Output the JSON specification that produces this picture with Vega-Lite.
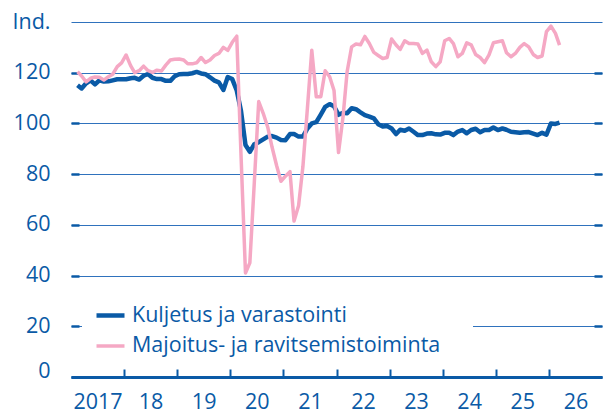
{
  "$schema": "https://vega.github.io/schema/vega-lite/v6.json",
  "width": 531,
  "height": 355,
  "autosize": {"type": "none"},
  "padding": {"left": 71, "top": 22, "right": 4, "bottom": 37},
  "background": "white",
  "config": {
    "font": "Open Sans",
    "view": {"stroke": null},
    "axis": {"labelColor": "#0a5aa6", "labelFontSize": 21.5, "labelFont": "Open Sans", "title": null}
  },
  "data": {"values": [
    {"date":"2017-02-15","series":"Kuljetus ja varastointi","value":115.1},
    {"date":"2017-03-15","series":"Kuljetus ja varastointi","value":113.8},
    {"date":"2017-04-15","series":"Kuljetus ja varastointi","value":115.8},
    {"date":"2017-05-15","series":"Kuljetus ja varastointi","value":117.0},
    {"date":"2017-06-15","series":"Kuljetus ja varastointi","value":115.4},
    {"date":"2017-07-15","series":"Kuljetus ja varastointi","value":117.0},
    {"date":"2017-08-15","series":"Kuljetus ja varastointi","value":116.5},
    {"date":"2017-09-15","series":"Kuljetus ja varastointi","value":116.6},
    {"date":"2017-10-15","series":"Kuljetus ja varastointi","value":117.0},
    {"date":"2017-11-15","series":"Kuljetus ja varastointi","value":117.4},
    {"date":"2017-12-15","series":"Kuljetus ja varastointi","value":117.4},
    {"date":"2018-01-15","series":"Kuljetus ja varastointi","value":117.4},
    {"date":"2018-02-15","series":"Kuljetus ja varastointi","value":117.8},
    {"date":"2018-03-15","series":"Kuljetus ja varastointi","value":118.0},
    {"date":"2018-04-15","series":"Kuljetus ja varastointi","value":117.3},
    {"date":"2018-05-15","series":"Kuljetus ja varastointi","value":118.8},
    {"date":"2018-06-15","series":"Kuljetus ja varastointi","value":119.5},
    {"date":"2018-07-15","series":"Kuljetus ja varastointi","value":118.0},
    {"date":"2018-08-15","series":"Kuljetus ja varastointi","value":117.5},
    {"date":"2018-09-15","series":"Kuljetus ja varastointi","value":117.5},
    {"date":"2018-10-15","series":"Kuljetus ja varastointi","value":116.8},
    {"date":"2018-11-15","series":"Kuljetus ja varastointi","value":116.8},
    {"date":"2018-12-15","series":"Kuljetus ja varastointi","value":118.6},
    {"date":"2019-01-15","series":"Kuljetus ja varastointi","value":119.4},
    {"date":"2019-02-15","series":"Kuljetus ja varastointi","value":119.5},
    {"date":"2019-03-15","series":"Kuljetus ja varastointi","value":119.5},
    {"date":"2019-04-15","series":"Kuljetus ja varastointi","value":119.8},
    {"date":"2019-05-15","series":"Kuljetus ja varastointi","value":120.3},
    {"date":"2019-06-15","series":"Kuljetus ja varastointi","value":119.7},
    {"date":"2019-07-15","series":"Kuljetus ja varastointi","value":119.4},
    {"date":"2019-08-15","series":"Kuljetus ja varastointi","value":118.2},
    {"date":"2019-09-15","series":"Kuljetus ja varastointi","value":116.9},
    {"date":"2019-10-15","series":"Kuljetus ja varastointi","value":116.2},
    {"date":"2019-11-15","series":"Kuljetus ja varastointi","value":113.2},
    {"date":"2019-12-15","series":"Kuljetus ja varastointi","value":118.3},
    {"date":"2020-01-15","series":"Kuljetus ja varastointi","value":117.5},
    {"date":"2020-02-15","series":"Kuljetus ja varastointi","value":113.0},
    {"date":"2020-03-15","series":"Kuljetus ja varastointi","value":105.0},
    {"date":"2020-04-15","series":"Kuljetus ja varastointi","value":91.5},
    {"date":"2020-05-15","series":"Kuljetus ja varastointi","value":88.8},
    {"date":"2020-06-15","series":"Kuljetus ja varastointi","value":91.8},
    {"date":"2020-07-15","series":"Kuljetus ja varastointi","value":92.6},
    {"date":"2020-08-15","series":"Kuljetus ja varastointi","value":93.7},
    {"date":"2020-09-15","series":"Kuljetus ja varastointi","value":94.8},
    {"date":"2020-10-15","series":"Kuljetus ja varastointi","value":95.0},
    {"date":"2020-11-15","series":"Kuljetus ja varastointi","value":94.4},
    {"date":"2020-12-15","series":"Kuljetus ja varastointi","value":93.5},
    {"date":"2021-01-15","series":"Kuljetus ja varastointi","value":93.4},
    {"date":"2021-02-15","series":"Kuljetus ja varastointi","value":95.8},
    {"date":"2021-03-15","series":"Kuljetus ja varastointi","value":95.8},
    {"date":"2021-04-15","series":"Kuljetus ja varastointi","value":94.8},
    {"date":"2021-05-15","series":"Kuljetus ja varastointi","value":94.8},
    {"date":"2021-06-15","series":"Kuljetus ja varastointi","value":98.0},
    {"date":"2021-07-15","series":"Kuljetus ja varastointi","value":100.0},
    {"date":"2021-08-15","series":"Kuljetus ja varastointi","value":100.5},
    {"date":"2021-09-15","series":"Kuljetus ja varastointi","value":103.5},
    {"date":"2021-10-15","series":"Kuljetus ja varastointi","value":106.5},
    {"date":"2021-11-15","series":"Kuljetus ja varastointi","value":107.6},
    {"date":"2021-12-15","series":"Kuljetus ja varastointi","value":106.8},
    {"date":"2022-01-15","series":"Kuljetus ja varastointi","value":103.4},
    {"date":"2022-02-15","series":"Kuljetus ja varastointi","value":104.2},
    {"date":"2022-03-15","series":"Kuljetus ja varastointi","value":104.0},
    {"date":"2022-04-15","series":"Kuljetus ja varastointi","value":106.0},
    {"date":"2022-05-15","series":"Kuljetus ja varastointi","value":105.6},
    {"date":"2022-06-15","series":"Kuljetus ja varastointi","value":104.4},
    {"date":"2022-07-15","series":"Kuljetus ja varastointi","value":103.3},
    {"date":"2022-08-15","series":"Kuljetus ja varastointi","value":102.7},
    {"date":"2022-09-15","series":"Kuljetus ja varastointi","value":102.0},
    {"date":"2022-10-15","series":"Kuljetus ja varastointi","value":99.7},
    {"date":"2022-11-15","series":"Kuljetus ja varastointi","value":98.8},
    {"date":"2022-12-15","series":"Kuljetus ja varastointi","value":99.0},
    {"date":"2023-01-15","series":"Kuljetus ja varastointi","value":98.0},
    {"date":"2023-02-15","series":"Kuljetus ja varastointi","value":95.8},
    {"date":"2023-03-15","series":"Kuljetus ja varastointi","value":97.5},
    {"date":"2023-04-15","series":"Kuljetus ja varastointi","value":97.1},
    {"date":"2023-05-15","series":"Kuljetus ja varastointi","value":98.0},
    {"date":"2023-06-15","series":"Kuljetus ja varastointi","value":96.7},
    {"date":"2023-07-15","series":"Kuljetus ja varastointi","value":95.4},
    {"date":"2023-08-15","series":"Kuljetus ja varastointi","value":95.4},
    {"date":"2023-09-15","series":"Kuljetus ja varastointi","value":96.0},
    {"date":"2023-10-15","series":"Kuljetus ja varastointi","value":96.1},
    {"date":"2023-11-15","series":"Kuljetus ja varastointi","value":95.7},
    {"date":"2023-12-15","series":"Kuljetus ja varastointi","value":95.6},
    {"date":"2024-01-15","series":"Kuljetus ja varastointi","value":96.3},
    {"date":"2024-02-15","series":"Kuljetus ja varastointi","value":96.3},
    {"date":"2024-03-15","series":"Kuljetus ja varastointi","value":95.4},
    {"date":"2024-04-15","series":"Kuljetus ja varastointi","value":96.8},
    {"date":"2024-05-15","series":"Kuljetus ja varastointi","value":97.4},
    {"date":"2024-06-15","series":"Kuljetus ja varastointi","value":96.1},
    {"date":"2024-07-15","series":"Kuljetus ja varastointi","value":97.4},
    {"date":"2024-08-15","series":"Kuljetus ja varastointi","value":97.9},
    {"date":"2024-09-15","series":"Kuljetus ja varastointi","value":96.5},
    {"date":"2024-10-15","series":"Kuljetus ja varastointi","value":97.4},
    {"date":"2024-11-15","series":"Kuljetus ja varastointi","value":97.4},
    {"date":"2024-12-15","series":"Kuljetus ja varastointi","value":98.4},
    {"date":"2025-01-15","series":"Kuljetus ja varastointi","value":97.4},
    {"date":"2025-02-15","series":"Kuljetus ja varastointi","value":98.0},
    {"date":"2025-03-15","series":"Kuljetus ja varastointi","value":97.5},
    {"date":"2025-04-15","series":"Kuljetus ja varastointi","value":96.7},
    {"date":"2025-05-15","series":"Kuljetus ja varastointi","value":96.5},
    {"date":"2025-06-15","series":"Kuljetus ja varastointi","value":96.3},
    {"date":"2025-07-15","series":"Kuljetus ja varastointi","value":96.5},
    {"date":"2025-08-15","series":"Kuljetus ja varastointi","value":96.6},
    {"date":"2025-09-15","series":"Kuljetus ja varastointi","value":96.0},
    {"date":"2025-10-15","series":"Kuljetus ja varastointi","value":95.4},
    {"date":"2025-11-15","series":"Kuljetus ja varastointi","value":96.3},
    {"date":"2025-12-15","series":"Kuljetus ja varastointi","value":95.6},
    {"date":"2026-01-15","series":"Kuljetus ja varastointi","value":100.0},
    {"date":"2026-02-15","series":"Kuljetus ja varastointi","value":99.8},
    {"date":"2026-03-15","series":"Kuljetus ja varastointi","value":100.3},
    {"date":"2017-02-15","series":"Majoitus- ja ravitsemistoiminta","value":120.4},
    {"date":"2017-03-15","series":"Majoitus- ja ravitsemistoiminta","value":118.7},
    {"date":"2017-04-15","series":"Majoitus- ja ravitsemistoiminta","value":116.4},
    {"date":"2017-05-15","series":"Majoitus- ja ravitsemistoiminta","value":117.8},
    {"date":"2017-06-15","series":"Majoitus- ja ravitsemistoiminta","value":118.3},
    {"date":"2017-07-15","series":"Majoitus- ja ravitsemistoiminta","value":118.2},
    {"date":"2017-08-15","series":"Majoitus- ja ravitsemistoiminta","value":117.1},
    {"date":"2017-09-15","series":"Majoitus- ja ravitsemistoiminta","value":118.4},
    {"date":"2017-10-15","series":"Majoitus- ja ravitsemistoiminta","value":119.4},
    {"date":"2017-11-15","series":"Majoitus- ja ravitsemistoiminta","value":122.4},
    {"date":"2017-12-15","series":"Majoitus- ja ravitsemistoiminta","value":123.9},
    {"date":"2018-01-15","series":"Majoitus- ja ravitsemistoiminta","value":127.0},
    {"date":"2018-02-15","series":"Majoitus- ja ravitsemistoiminta","value":122.8},
    {"date":"2018-03-15","series":"Majoitus- ja ravitsemistoiminta","value":120.0},
    {"date":"2018-04-15","series":"Majoitus- ja ravitsemistoiminta","value":120.8},
    {"date":"2018-05-15","series":"Majoitus- ja ravitsemistoiminta","value":122.6},
    {"date":"2018-06-15","series":"Majoitus- ja ravitsemistoiminta","value":120.8},
    {"date":"2018-07-15","series":"Majoitus- ja ravitsemistoiminta","value":120.1},
    {"date":"2018-08-15","series":"Majoitus- ja ravitsemistoiminta","value":121.0},
    {"date":"2018-09-15","series":"Majoitus- ja ravitsemistoiminta","value":120.7},
    {"date":"2018-10-15","series":"Majoitus- ja ravitsemistoiminta","value":123.0},
    {"date":"2018-11-15","series":"Majoitus- ja ravitsemistoiminta","value":125.0},
    {"date":"2018-12-15","series":"Majoitus- ja ravitsemistoiminta","value":125.3},
    {"date":"2019-01-15","series":"Majoitus- ja ravitsemistoiminta","value":125.4},
    {"date":"2019-02-15","series":"Majoitus- ja ravitsemistoiminta","value":125.0},
    {"date":"2019-03-15","series":"Majoitus- ja ravitsemistoiminta","value":123.5},
    {"date":"2019-04-15","series":"Majoitus- ja ravitsemistoiminta","value":123.5},
    {"date":"2019-05-15","series":"Majoitus- ja ravitsemistoiminta","value":123.9},
    {"date":"2019-06-15","series":"Majoitus- ja ravitsemistoiminta","value":126.0},
    {"date":"2019-07-15","series":"Majoitus- ja ravitsemistoiminta","value":124.0},
    {"date":"2019-08-15","series":"Majoitus- ja ravitsemistoiminta","value":125.0},
    {"date":"2019-09-15","series":"Majoitus- ja ravitsemistoiminta","value":126.8},
    {"date":"2019-10-15","series":"Majoitus- ja ravitsemistoiminta","value":127.6},
    {"date":"2019-11-15","series":"Majoitus- ja ravitsemistoiminta","value":130.0},
    {"date":"2019-12-15","series":"Majoitus- ja ravitsemistoiminta","value":128.8},
    {"date":"2020-01-15","series":"Majoitus- ja ravitsemistoiminta","value":132.0},
    {"date":"2020-02-15","series":"Majoitus- ja ravitsemistoiminta","value":134.4},
    {"date":"2020-03-15","series":"Majoitus- ja ravitsemistoiminta","value":88.0},
    {"date":"2020-04-15","series":"Majoitus- ja ravitsemistoiminta","value":41.0},
    {"date":"2020-05-15","series":"Majoitus- ja ravitsemistoiminta","value":45.0},
    {"date":"2020-06-15","series":"Majoitus- ja ravitsemistoiminta","value":77.0},
    {"date":"2020-07-15","series":"Majoitus- ja ravitsemistoiminta","value":108.6},
    {"date":"2020-08-15","series":"Majoitus- ja ravitsemistoiminta","value":104.0},
    {"date":"2020-09-15","series":"Majoitus- ja ravitsemistoiminta","value":98.5},
    {"date":"2020-10-15","series":"Majoitus- ja ravitsemistoiminta","value":90.6},
    {"date":"2020-11-15","series":"Majoitus- ja ravitsemistoiminta","value":83.4},
    {"date":"2020-12-15","series":"Majoitus- ja ravitsemistoiminta","value":77.2},
    {"date":"2021-01-15","series":"Majoitus- ja ravitsemistoiminta","value":79.2},
    {"date":"2021-02-15","series":"Majoitus- ja ravitsemistoiminta","value":81.0},
    {"date":"2021-03-15","series":"Majoitus- ja ravitsemistoiminta","value":61.5},
    {"date":"2021-04-15","series":"Majoitus- ja ravitsemistoiminta","value":67.5},
    {"date":"2021-05-15","series":"Majoitus- ja ravitsemistoiminta","value":83.0},
    {"date":"2021-06-15","series":"Majoitus- ja ravitsemistoiminta","value":106.0},
    {"date":"2021-07-15","series":"Majoitus- ja ravitsemistoiminta","value":128.9},
    {"date":"2021-08-15","series":"Majoitus- ja ravitsemistoiminta","value":110.5},
    {"date":"2021-09-15","series":"Majoitus- ja ravitsemistoiminta","value":110.5},
    {"date":"2021-10-15","series":"Majoitus- ja ravitsemistoiminta","value":120.8},
    {"date":"2021-11-15","series":"Majoitus- ja ravitsemistoiminta","value":118.4},
    {"date":"2021-12-15","series":"Majoitus- ja ravitsemistoiminta","value":113.0},
    {"date":"2022-01-15","series":"Majoitus- ja ravitsemistoiminta","value":88.5},
    {"date":"2022-02-15","series":"Majoitus- ja ravitsemistoiminta","value":102.6},
    {"date":"2022-03-15","series":"Majoitus- ja ravitsemistoiminta","value":120.4},
    {"date":"2022-04-15","series":"Majoitus- ja ravitsemistoiminta","value":130.2},
    {"date":"2022-05-15","series":"Majoitus- ja ravitsemistoiminta","value":131.3},
    {"date":"2022-06-15","series":"Majoitus- ja ravitsemistoiminta","value":131.0},
    {"date":"2022-07-15","series":"Majoitus- ja ravitsemistoiminta","value":134.3},
    {"date":"2022-08-15","series":"Majoitus- ja ravitsemistoiminta","value":131.5},
    {"date":"2022-09-15","series":"Majoitus- ja ravitsemistoiminta","value":128.0},
    {"date":"2022-10-15","series":"Majoitus- ja ravitsemistoiminta","value":126.8},
    {"date":"2022-11-15","series":"Majoitus- ja ravitsemistoiminta","value":125.6},
    {"date":"2022-12-15","series":"Majoitus- ja ravitsemistoiminta","value":126.0},
    {"date":"2023-01-15","series":"Majoitus- ja ravitsemistoiminta","value":133.3},
    {"date":"2023-02-15","series":"Majoitus- ja ravitsemistoiminta","value":130.9},
    {"date":"2023-03-15","series":"Majoitus- ja ravitsemistoiminta","value":129.2},
    {"date":"2023-04-15","series":"Majoitus- ja ravitsemistoiminta","value":132.6},
    {"date":"2023-05-15","series":"Majoitus- ja ravitsemistoiminta","value":131.5},
    {"date":"2023-06-15","series":"Majoitus- ja ravitsemistoiminta","value":131.5},
    {"date":"2023-07-15","series":"Majoitus- ja ravitsemistoiminta","value":131.3},
    {"date":"2023-08-15","series":"Majoitus- ja ravitsemistoiminta","value":127.6},
    {"date":"2023-09-15","series":"Majoitus- ja ravitsemistoiminta","value":128.9},
    {"date":"2023-10-15","series":"Majoitus- ja ravitsemistoiminta","value":124.3},
    {"date":"2023-11-15","series":"Majoitus- ja ravitsemistoiminta","value":122.4},
    {"date":"2023-12-15","series":"Majoitus- ja ravitsemistoiminta","value":124.3},
    {"date":"2024-01-15","series":"Majoitus- ja ravitsemistoiminta","value":132.6},
    {"date":"2024-02-15","series":"Majoitus- ja ravitsemistoiminta","value":133.5},
    {"date":"2024-03-15","series":"Majoitus- ja ravitsemistoiminta","value":131.5},
    {"date":"2024-04-15","series":"Majoitus- ja ravitsemistoiminta","value":126.3},
    {"date":"2024-05-15","series":"Majoitus- ja ravitsemistoiminta","value":127.6},
    {"date":"2024-06-15","series":"Majoitus- ja ravitsemistoiminta","value":131.8},
    {"date":"2024-07-15","series":"Majoitus- ja ravitsemistoiminta","value":131.0},
    {"date":"2024-08-15","series":"Majoitus- ja ravitsemistoiminta","value":127.2},
    {"date":"2024-09-15","series":"Majoitus- ja ravitsemistoiminta","value":126.0},
    {"date":"2024-10-15","series":"Majoitus- ja ravitsemistoiminta","value":124.0},
    {"date":"2024-11-15","series":"Majoitus- ja ravitsemistoiminta","value":127.0},
    {"date":"2024-12-15","series":"Majoitus- ja ravitsemistoiminta","value":131.8},
    {"date":"2025-01-15","series":"Majoitus- ja ravitsemistoiminta","value":132.2},
    {"date":"2025-02-15","series":"Majoitus- ja ravitsemistoiminta","value":132.6},
    {"date":"2025-03-15","series":"Majoitus- ja ravitsemistoiminta","value":127.9},
    {"date":"2025-04-15","series":"Majoitus- ja ravitsemistoiminta","value":126.3},
    {"date":"2025-05-15","series":"Majoitus- ja ravitsemistoiminta","value":127.6},
    {"date":"2025-06-15","series":"Majoitus- ja ravitsemistoiminta","value":130.0},
    {"date":"2025-07-15","series":"Majoitus- ja ravitsemistoiminta","value":131.5},
    {"date":"2025-08-15","series":"Majoitus- ja ravitsemistoiminta","value":130.2},
    {"date":"2025-09-15","series":"Majoitus- ja ravitsemistoiminta","value":127.2},
    {"date":"2025-10-15","series":"Majoitus- ja ravitsemistoiminta","value":126.0},
    {"date":"2025-11-15","series":"Majoitus- ja ravitsemistoiminta","value":126.6},
    {"date":"2025-12-15","series":"Majoitus- ja ravitsemistoiminta","value":136.2},
    {"date":"2026-01-15","series":"Majoitus- ja ravitsemistoiminta","value":138.4},
    {"date":"2026-02-15","series":"Majoitus- ja ravitsemistoiminta","value":135.5},
    {"date":"2026-03-15","series":"Majoitus- ja ravitsemistoiminta","value":130.9}
  ]},
  "layer": [
    {
      "mark": {"type": "line", "strokeJoin": "round", "strokeCap": "butt"},
      "encoding": {
        "x": {
          "field": "date", "type": "temporal",
          "scale": {"type": "utc", "domain": [{"year": 2017, "month": 1, "date": 1, "utc": true}, {"year": 2027, "month": 1, "date": 1, "utc": true}], "nice": false},
          "axis": {
            "values": [
              {"year": 2017, "month": 1, "date": 1, "utc": true},
              {"year": 2018, "month": 1, "date": 1, "utc": true},
              {"year": 2019, "month": 1, "date": 1, "utc": true},
              {"year": 2020, "month": 1, "date": 1, "utc": true},
              {"year": 2021, "month": 1, "date": 1, "utc": true},
              {"year": 2022, "month": 1, "date": 1, "utc": true},
              {"year": 2023, "month": 1, "date": 1, "utc": true},
              {"year": 2024, "month": 1, "date": 1, "utc": true},
              {"year": 2025, "month": 1, "date": 1, "utc": true},
              {"year": 2026, "month": 1, "date": 1, "utc": true}
            ],
            "labelExpr": "utcyear(datum.value) == 2017 ? '2017' : utcFormat(datum.value, '%y')",
            "labelOffset": 26.5,
            "labelFlush": false,
            "labelOverlap": false,
            "labelPadding": 22.5,
            "grid": false,
            "domainColor": "#0a5aa6",
            "domainWidth": 3,
            "tickSize": -8,
            "tickWidth": 2,
            "tickColor": {"condition": {"test": "utcyear(datum.value) == 2017", "value": "transparent"}, "value": "#0a5aa6"},
            "title": null
          }
        },
        "y": {
          "field": "value", "type": "quantitative",
          "scale": {"domain": [0, 140], "nice": false},
          "axis": {
            "values": [0, 20, 40, 60, 80, 100, 120, 140],
            "labelExpr": "datum.value == 140 ? 'Ind.' : datum.label",
            "labelBaseline": {"condition": {"test": "datum.value == 0", "value": "alphabetic"}, "value": "middle"},
            "labelFlush": false,
            "labelPadding": 29,
            "grid": true,
            "gridColor": "#2f72bd",
            "gridWidth": 1,
            "domain": false,
            "tickSize": -8,
            "tickWidth": 2.5,
            "tickColor": {"condition": {"test": "datum.value == 140", "value": "transparent"}, "value": "#0a5aa6"},
            "title": null
          }
        },
        "color": {
          "field": "series", "type": "nominal",
          "scale": {"domain": ["Kuljetus ja varastointi", "Majoitus- ja ravitsemistoiminta"], "range": ["#0a5aa6", "#f5a8c4"]},
          "legend": {
            "orient": "none", "legendX": 11, "legendY": 265,
            "title": "––", "titleOpacity": 0, "titleOrient": "right", "titleFontSize": 21, "titlePadding": 0,
            "fillColor": "white", "padding": 12,
            "labelFontSize": 21.5, "labelFont": "Open Sans", "labelColor": "#0a5aa6",
            "labelLimit": 0,
            "symbolType": "stroke", "symbolStrokeWidth": 6.5, "symbolSize": 784,
            "labelOffset": 5, "rowPadding": 4
          }
        },
        "strokeWidth": {
          "field": "series", "type": "nominal",
          "scale": {"domain": ["Kuljetus ja varastointi", "Majoitus- ja ravitsemistoiminta"], "range": [4.5, 3.5]},
          "legend": null
        }
      }
    },
    {
      "mark": {"type": "line", "opacity": 0},
      "encoding": {
        "x": {"field": "date", "type": "temporal"},
        "y": {
          "field": "value", "type": "quantitative",
          "axis": {
            "orient": "right",
            "values": [0, 20, 40, 60, 80, 100, 120, 140],
            "labels": false, "grid": false, "domain": false,
            "tickSize": -8, "tickWidth": 2.5,
            "tickColor": {"condition": {"test": "datum.value == 140", "value": "transparent"}, "value": "#0a5aa6"},
            "title": null
          }
        },
        "detail": {"field": "series", "type": "nominal"}
      }
    }
  ],
  "resolve": {"axis": {"y": "independent"}}
}
